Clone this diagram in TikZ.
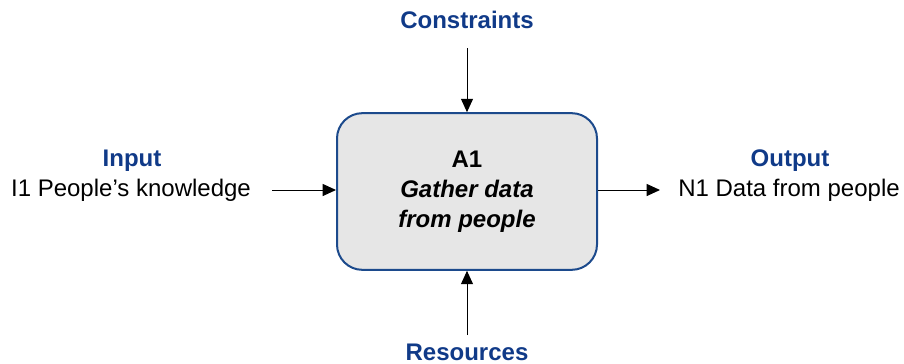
\documentclass[tikz,border=0pt]{standalone}
\usepackage{fontspec}
\setmainfont{Liberation Sans}
\usetikzlibrary{arrows.meta}
\definecolor{navy}{RGB}{16,58,136}
\definecolor{boxfill}{RGB}{230,230,230}
\definecolor{boxline}{RGB}{28,74,140}
\tikzset{
  x=0.75pt, y=-0.75pt,
  lbl/.style={font=\fontsize{18}{20}\selectfont\bfseries, text=navy, inner sep=0pt},
  txt/.style={font=\fontsize{18}{20}\selectfont, inner sep=0pt},
  flow/.style={-{Triangle[length=10pt,width=9pt]}, line width=0.75pt},
  actbox/.style={draw=boxline, line width=1.5pt, fill=boxfill, rounded corners=19pt, minimum width=195pt, minimum height=117.5pt, align=center, font=\fontsize{18}{22.5}\selectfont\bfseries}
}
\begin{document}
\begin{tikzpicture}
\useasboundingbox (0,0) rectangle (904,364);
\node[actbox] (a1) at (467,191.5) {A1\\\itshape Gather data\\\itshape from people};
\node[lbl] (con) at (467,20) {Constraints};
\node[lbl] (res) at (467,352) {Resources};
\node[lbl] (inl) at (132,161) {Input};
\node[txt] (inp) at (131,190) {I1 People’s knowledge};
\node[lbl] (outl) at (790,161) {Output};
\node[txt] (out) at (789,190) {N1 Data from people};
\coordinate (ca) at (467,48);
\coordinate (ra) at (467,335);
\coordinate (ia) at (272,190);
\coordinate (oa) at (660,190);
\draw[flow] (ca) -- (a1.north);
\draw[flow] (ra) -- (a1.south);
\draw[flow] (ia) -- (ia -| a1.west);
\draw[flow] (oa -| a1.east) -- (oa);
\end{tikzpicture}
\end{document}
